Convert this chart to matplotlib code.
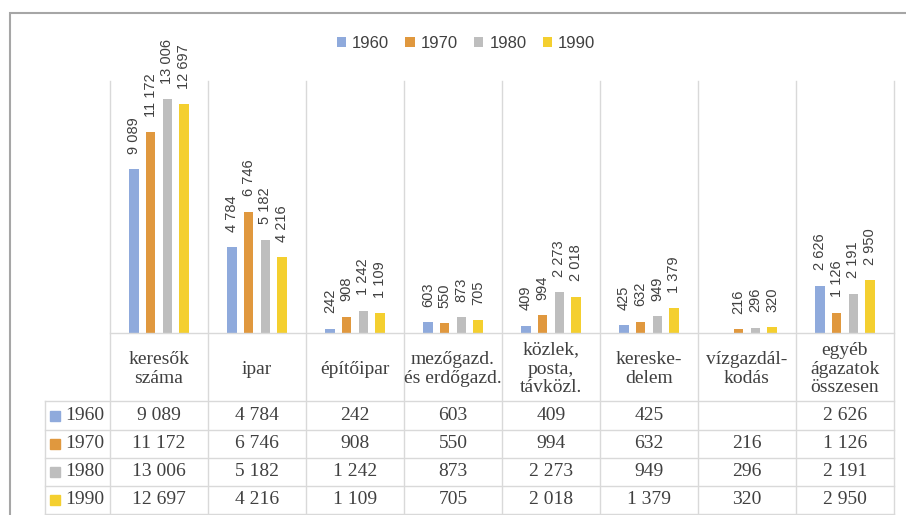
import numpy as np
import matplotlib.pyplot as plt
from matplotlib.patches import Rectangle
from matplotlib.transforms import blended_transform_factory

plt.rcParams["font.family"] = "Liberation Sans"

years = ["1960", "1970", "1980", "1990"]
categories = ["keresők\nszáma", "ipar", "építőipar", "mezőgazd.\nés erdőgazd.",
              "közlek,\nposta,\ntávközl.", "kereske-\ndelem", "vízgazdál-\nkodás",
              "egyéb\nágazatok\nösszesen"]
v1960 = [9089, 4784, 242, 603, 409, 425, np.nan, 2626]
v1970 = [11172, 6746, 908, 550, 994, 632, 216, 1126]
v1980 = [13006, 5182, 1242, 873, 2273, 949, 296, 2191]
v1990 = [12697, 4216, 1109, 705, 2018, 1379, 320, 2950]
series = [v1960, v1970, v1980, v1990]
colors = ["#8FAADC", "#E0983E", "#BEBEBE", "#F4CF2F"]

txt = "#404040"
grid = "#D9D9D9"
serif = "Liberation Serif"


def fmt(v):
    return f"{int(v):,}".replace(",", " ")


W, H = 906, 515
fig = plt.figure(figsize=(W / 100, H / 100), dpi=100)


def fy(py):
    # pixel row (from top) -> figure fraction
    return 1 - py / H


ax = fig.add_axes([110 / W, fy(333), (894 - 110) / W, (333 - 81) / H])
x = np.arange(len(categories))
step, width = 0.17, 0.094
for i, (yr, vals, c) in enumerate(zip(years, series, colors)):
    pos = x + (i - 1.5) * step
    vals = np.array(vals, dtype=float)
    ax.bar(pos, np.nan_to_num(vals), width, color=c, label=yr)
    for p, v in zip(pos, vals):
        if np.isnan(v):
            continue
        ax.annotate(fmt(v), (p, v), xytext=(0, 11), textcoords="offset points",
                    rotation=90, ha="center", va="bottom", fontsize=10.5, color=txt)
ax.set_xlim(-0.5, len(categories) - 0.5)
ax.set_ylim(0, 14000)
ax.axis("off")

# data table under the bars
trans = blended_transform_factory(ax.transData, fig.transFigure)
left_col = -0.5 - (110 - 45) / 98
right = len(categories) - 0.5
for e in np.arange(len(categories) + 1) - 0.5:
    ax.plot([e, e], [fy(81), fy(514)], transform=trans, color=grid, lw=1, clip_on=False)
ax.plot([-0.5, right], [fy(333), fy(333)], transform=trans, color=grid, lw=1, clip_on=False)
for py in [401, 430, 458, 486, 514]:
    ax.plot([left_col, right], [fy(py), fy(py)], transform=trans, color=grid, lw=1, clip_on=False)
ax.plot([left_col, left_col], [fy(401), fy(514)], transform=trans, color=grid, lw=1, clip_on=False)

for xi, cat in zip(x, categories):
    ax.text(xi, fy(369), cat, transform=trans, ha="center", va="center", fontsize=14,
            family=serif, color=txt, linespacing=1.15)

row_y = [415.5, 444, 472, 500]
for ry, yr, vals, c in zip(row_y, years, series, colors):
    ax.plot([left_col + 10 / 98], [fy(ry)], marker="s", ms=6.5, color=c,
            transform=trans, clip_on=False)
    ax.text(left_col + 20 / 98, fy(ry), yr, transform=trans, ha="left", va="center",
            fontsize=14, family=serif, color=txt)
    for xi, v in zip(x, vals):
        if np.isnan(v):
            continue
        ax.text(xi, fy(ry), fmt(v), transform=trans, ha="center", va="center",
                fontsize=14, family=serif, color=txt)

handles, labels = ax.get_legend_handles_labels()
leg = fig.legend(handles, labels, loc="center", bbox_to_anchor=(466 / W, fy(43.5)), ncol=4,
                 frameon=False, fontsize=12, handlelength=0.55, handleheight=0.55,
                 handletextpad=0.35, columnspacing=1.0)
for t in leg.get_texts():
    t.set_color(txt)

# chart frame
fig.add_artist(Rectangle((10 / W, -0.1), 2, fy(13) + 0.1, transform=fig.transFigure,
                         fill=False, edgecolor="#A6A6A6", lw=1.5))

fig.savefig("out.png", dpi=100)
